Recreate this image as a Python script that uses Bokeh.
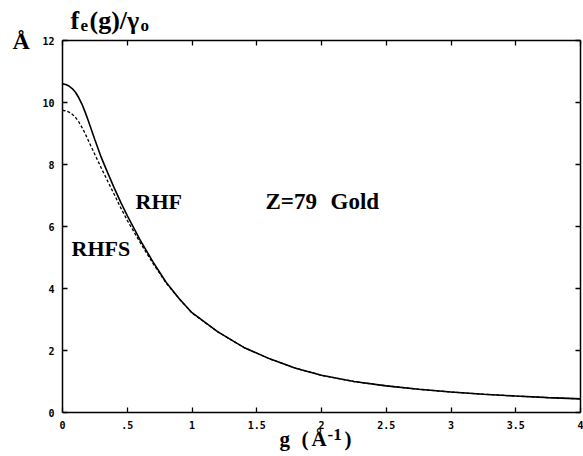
from bokeh.plotting import figure
from bokeh.models import Label, LinearAxis, Range1d, FixedTicker
from bokeh.embed import file_html
from bokeh.resources import INLINE

# ---- data ----
g_rhf = [0, 0.025, 0.05, 0.075, 0.1, 0.125, 0.15, 0.175, 0.2, 0.25, 0.3, 0.35, 0.4, 0.45, 0.5,
         0.6, 0.7, 0.8, 0.9, 1.0, 1.2, 1.4, 1.6, 1.8, 2.0, 2.25, 2.5, 2.75, 3.0, 3.25, 3.5, 3.75, 4.0]
f_rhf = [10.6, 10.58, 10.53, 10.45, 10.33, 10.16, 9.95, 9.69, 9.4, 8.8, 8.22, 7.72, 7.24, 6.78, 6.35,
         5.56, 4.85, 4.2, 3.68, 3.22, 2.6, 2.1, 1.73, 1.43, 1.2, 1.0, 0.86, 0.75, 0.66, 0.59, 0.53, 0.48, 0.44]

g_rhfs = [0, 0.025, 0.05, 0.075, 0.1, 0.125, 0.15, 0.175, 0.2, 0.25, 0.3, 0.35, 0.4, 0.45, 0.5,
          0.6, 0.7, 0.8, 0.9, 1.0, 1.2, 1.4, 1.6, 1.8, 2.0, 2.25, 2.5, 2.75, 3.0, 3.25, 3.5, 3.75, 4.0]
f_rhfs = [9.75, 9.73, 9.69, 9.62, 9.52, 9.38, 9.2, 9.0, 8.77, 8.32, 7.88, 7.45, 7.03, 6.6, 6.2,
          5.48, 4.8, 4.18, 3.67, 3.21, 2.6, 2.1, 1.73, 1.43, 1.2, 1.0, 0.86, 0.75, 0.66, 0.59, 0.53, 0.48, 0.44]

x_ticks = [0, 0.5, 1, 1.5, 2, 2.5, 3, 3.5, 4]
x_tick_labels = ["0", ".5", "1", "1.5", "2", "2.5", "3", "3.5", "4"]
y_ticks = [0, 2, 4, 6, 8, 10, 12]

SERIF = "Liberation Serif"
MONO = "DejaVu Sans Mono"

W, H = 583, 456
# pixel placement of the data box inside the canvas
PX0, PX1 = 62, 580     # g = 0 .. 4
PY0, PY1 = 412, 40     # f = 0 .. 12 (from top)
sx = (PX1 - PX0) / 4.0
sy = (PY0 - PY1) / 12.0
xr = Range1d(-PX0 / sx, 4 + (W - PX1) / sx)
yr = Range1d(-(H - PY0) / sy, 12 + PY1 / sy)

p = figure(width=W, height=H, x_range=xr, y_range=yr,
           output_backend="svg", toolbar_location=None,
           x_axis_location=None, y_axis_location=None,
           min_border=0, min_border_left=0, min_border_right=0,
           min_border_top=0, min_border_bottom=0)
p.xgrid.visible = False
p.ygrid.visible = False
p.outline_line_color = None
p.background_fill_color = "white"
p.border_fill_color = "white"

def style_axis(ax, show_labels):
    ax.axis_line_color = "black"
    ax.axis_line_width = 1.5
    ax.major_tick_in = 5
    ax.major_tick_out = 0
    ax.major_tick_line_width = 1.3
    ax.minor_tick_line_color = None
    if show_labels:
        ax.major_label_text_font = MONO
        ax.major_label_text_font_size = "10px"
        ax.major_label_text_font_style = "bold"
        ax.major_label_text_color = "black"
        ax.major_label_standoff = 8
    else:
        ax.major_label_text_color = None

xb = LinearAxis(ticker=FixedTicker(ticks=x_ticks), fixed_location=0, bounds=(0, 4),
                major_label_overrides={t: l for t, l in zip(x_ticks, x_tick_labels)})
style_axis(xb, True)
p.add_layout(xb, "below")
yl = LinearAxis(ticker=FixedTicker(ticks=y_ticks), fixed_location=0, bounds=(0, 12))
style_axis(yl, True)
p.add_layout(yl, "left")
xt = LinearAxis(ticker=FixedTicker(ticks=x_ticks), fixed_location=12, bounds=(0, 4))
style_axis(xt, False)
p.add_layout(xt, "above")
yrr = LinearAxis(ticker=FixedTicker(ticks=y_ticks), fixed_location=4, bounds=(0, 12))
style_axis(yrr, False)
p.add_layout(yrr, "right")

p.line(g_rhf, f_rhf, line_color="black", line_width=1.6)
p.line(g_rhfs, f_rhfs, line_color="black", line_width=1.3, line_dash="3 2")

def lab(text, cx, cy, size, font=SERIF, bold=True):
    # cx, cy: canvas pixels from the top-left corner
    p.add_layout(Label(x=cx, y=H - cy, x_units="screen", y_units="screen",
                       text=text, text_font=font, text_font_size=size,
                       text_font_style="bold" if bold else "normal",
                       text_color="black", text_align="left", text_baseline="alphabetic"))

# title f_e(g)/gamma_o
lab("f", 70, 20, "26px")
lab("e", 80, 25, "17px")
lab("(g)/\u03b3", 89, 20, "26px")
lab("o", 140, 25, "17px")
# unit on y axis
lab("\u00c5", 12, 40, "24px")
# x axis label
lab("g", 279, 438, "21px")
lab("(", 301, 438, "21px")
lab("\u00c5", 311, 438, "21px")
lab("-1", 327, 434, "17px")
lab(")", 344, 438, "21px")
# in-plot labels
lab("RHF", 135, 201, "22px")
lab("RHFS", 71, 248, "22px")
lab("Z=79", 265, 201, "23px")
lab("Gold", 330, 201, "23px")

open("out.html", "w").write(file_html(p, INLINE))
